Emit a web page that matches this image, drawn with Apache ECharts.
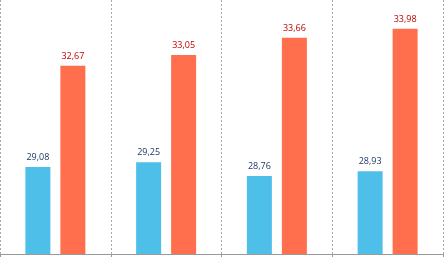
<!DOCTYPE html>
<html><head><meta charset="utf-8">
<style>html,body{margin:0;padding:0;background:#fff}#c{width:444px;height:257px}</style>
<script src="https://cdn.jsdelivr.net/npm/echarts@6/dist/echarts.min.js"></script>
</head><body><div id="c"></div>
<script>
const categories = ['G1', 'G2', 'G3', 'G4'];
const seriesA = [29.08, 29.25, 28.76, 28.93];
const seriesB = [32.67, 33.05, 33.66, 33.98];

const chart = echarts.init(document.getElementById('c'), null, {renderer: 'canvas'});
const fmt = p => p.value.toFixed(2).replace('.', ',');
chart.setOption({
  animation: false,
  grid: {left: 0, right: 1, top: 0, bottom: 3, containLabel: false},
  xAxis: {
    type: 'category', data: categories, boundaryGap: true,
    axisLine: {show: true, lineStyle: {color: '#999', width: 1}},
    axisTick: {show: true, length: 3, lineStyle: {color: '#999'}},
    axisLabel: {show: false},
    splitLine: {show: true, lineStyle: {color: '#aaa', type: [2, 2], width: 1}}
  },
  yAxis: {type: 'value', min: 26, max: 35, show: false, splitLine: {show: false}},
  series: [
    {type: 'bar', data: seriesA, barWidth: 25, barGap: '40%',
     itemStyle: {color: '#4DBFE8'},
     label: {show: true, position: 'top', distance: 5, color: '#1F3864', fontSize: 9, fontFamily: 'Open Sans', formatter: fmt}},
    {type: 'bar', data: seriesB, barWidth: 25,
     itemStyle: {color: '#FF6F4E'},
     label: {show: true, position: 'top', distance: 5, color: '#C00000', fontSize: 9, fontFamily: 'Open Sans', formatter: fmt}}
  ]
});
</script></body></html>
